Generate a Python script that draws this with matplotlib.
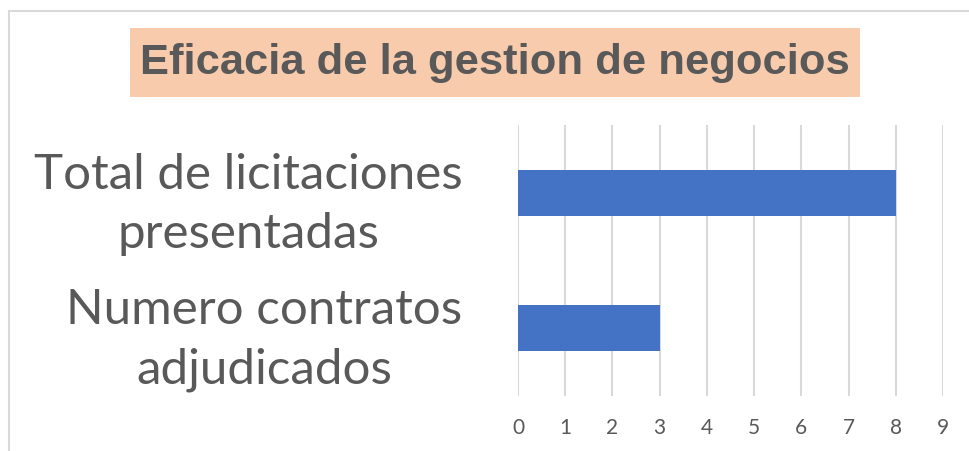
import matplotlib.pyplot as plt
from matplotlib.patches import Rectangle

# data
categories = ['Numero contratos\nadjudicados', 'Total de licitaciones\npresentadas']
values = [3, 8]
ticks = list(range(10))
title = 'Eficacia de la gestion de negocios'

W, H = 969, 451
fig = plt.figure(figsize=(W / 100, H / 100), dpi=100)

# axes placed in pixel terms: x 518..943, y 125..396
ax = fig.add_axes([518 / W, 1 - 396 / H, (943 - 518) / W, (396 - 125) / H])

ax.barh(range(len(values)), values, height=0.34, color='#4472c4', zorder=3)
ax.set_xlim(0, 9)
ax.set_ylim(-0.5, len(values) - 0.5)
ax.set_xticks(ticks)
ax.set_xticklabels([str(t) for t in ticks], fontsize=15, color='#595959', family=['Lato', 'DejaVu Sans'])
ax.set_yticks(range(len(values)))
ax.set_yticklabels(categories, fontsize=35.5, color='#595959', family=['Lato', 'DejaVu Sans'],
                   multialignment='center', linespacing=1.42)
ax.tick_params(axis='both', length=0)
ax.tick_params(axis='x', pad=16)
ax.tick_params(axis='y', pad=40)
ax.grid(axis='x', color='#d9d9d9', linewidth=1.5, zorder=0)
for s in ax.spines.values():
    s.set_visible(False)

# title with filled box
fig.patches.append(Rectangle((130 / W, 1 - 97 / H), (860 - 130) / W, (97 - 28) / H,
                             transform=fig.transFigure, facecolor='#f8cbad', edgecolor='none'))
fig.text(495 / W, 1 - 63 / H, title, ha='center', va='center', fontsize=31.3, fontweight='bold',
         color='#595959', family=['Liberation Sans Narrow', 'Liberation Sans', 'DejaVu Sans'])

# chart border (top and left visible)
fig.patches.append(Rectangle((9 / W, -0.1), 1.2, 1 - 11 / H + 0.1, transform=fig.transFigure,
                             facecolor='none', edgecolor='#d9d9d9', linewidth=1.5))

fig.savefig('out.png', dpi=100)
